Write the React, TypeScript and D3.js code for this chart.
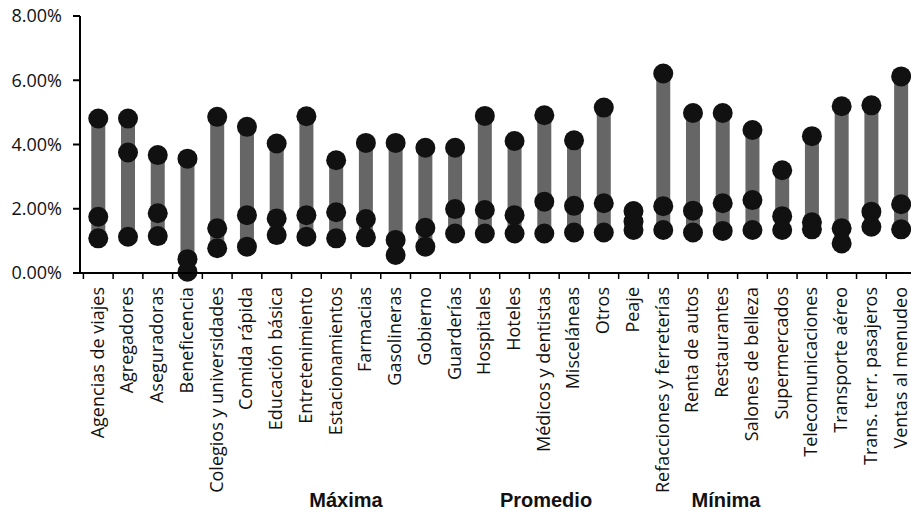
import React from "react";
import * as d3 from "d3";

const categories = [
  "Agencias de viajes", "Agregadores", "Aseguradoras", "Beneficencia",
  "Colegios y universidades", "Comida rápida", "Educación básica", "Entretenimiento",
  "Estacionamientos", "Farmacias", "Gasolineras", "Gobierno", "Guarderías",
  "Hospitales", "Hoteles", "Médicos y dentistas", "Misceláneas", "Otros", "Peaje",
  "Refacciones y ferreterías", "Renta de autos", "Restaurantes", "Salones de belleza",
  "Supermercados", "Telecomunicaciones", "Transporte aéreo", "Trans. terr. pasajeros",
  "Ventas al menudeo",
];
const maxima = [4.81, 4.81, 3.67, 3.56, 4.86, 4.55, 4.03, 4.88, 3.51, 4.05, 4.05, 3.9, 3.9, 4.89, 4.11, 4.91, 4.13, 5.15, 1.93, 6.21, 4.98, 4.98, 4.45, 3.2, 4.26, 5.19, 5.22, 6.12];
const promedio = [1.75, 3.75, 1.86, 0.43, 1.39, 1.8, 1.7, 1.8, 1.89, 1.68, 1.03, 1.41, 1.99, 1.96, 1.8, 2.22, 2.09, 2.17, 1.6, 2.08, 1.94, 2.17, 2.27, 1.77, 1.58, 1.39, 1.91, 2.14];
const minima = [1.08, 1.13, 1.15, 0.04, 0.77, 0.82, 1.18, 1.13, 1.08, 1.11, 0.56, 0.82, 1.23, 1.23, 1.23, 1.23, 1.26, 1.26, 1.34, 1.34, 1.26, 1.31, 1.34, 1.34, 1.36, 0.92, 1.44, 1.36];
const yTicks = [0, 2, 4, 6, 8];
const legendLabels = ["Máxima", "Promedio", "Mínima"];

export default function App() {
  const W = 911, H = 514;
  const x = d3.scaleBand<string>().domain(categories).range([83.4, 916]).padding(0);
  const y = d3.scaleLinear().domain([0, 8]).range([273, 16]);
  const bw = x.bandwidth();
  const cx = (c: string) => (x(c) as number) + bw / 2;
  const font = "'Open Sans', sans-serif";
  const legendX = [346, 546, 726];
  const series = [maxima, promedio, minima];
  return (
    <svg width={W} height={H} style={{ position: "absolute", left: 0, top: 0, background: "#fff" }}>
      {/* range bars */}
      {categories.map((c, i) => (
        <rect key={"b" + i} x={cx(c) - 7} width={14} y={y(maxima[i])} height={y(minima[i]) - y(maxima[i])} fill="#666" />
      ))}
      {/* dots */}
      {series.map((s, si) =>
        categories.map((c, i) => (
          <circle key={`d${si}-${i}`} cx={cx(c)} cy={y(s[i])} r={10} fill="#111" />
        ))
      )}
      {/* y axis */}
      <line x1={80} x2={80} y1={y(8)} y2={y(0)} stroke="#000" strokeWidth={2} />
      {yTicks.map((t) => (
        <g key={"yt" + t}>
          <line x1={73} x2={80} y1={y(t)} y2={y(t)} stroke="#000" strokeWidth={2} />
          <text x={62} y={y(t)} dy="0.35em" textAnchor="end" fontFamily={font} fontSize={18} fill="#111">
            {t.toFixed(2) + "%"}
          </text>
        </g>
      ))}
      {/* x axis */}
      <line x1={76} x2={W} y1={y(0)} y2={y(0)} stroke="#000" strokeWidth={2} />
      {categories.map((c, i) => (
        <line key={"xt" + i} x1={x(c) as number} x2={x(c) as number} y1={y(0)} y2={y(0) + 6} stroke="#000" strokeWidth={1.5} />
      ))}
      {categories.map((c, i) => (
        <text
          key={"xl" + i}
          transform={`translate(${cx(c) - 0.5},${287}) rotate(-90)`}
          dy="0.33em"
          textAnchor="end"
          fontFamily={font}
          fontSize={18}
          fill="#111"
        >
          {c}
        </text>
      ))}
      {/* legend */}
      {legendLabels.map((l, i) => (
        <text key={"lg" + i} x={legendX[i]} y={500} dy="0.35em" textAnchor="middle" fontFamily="'Liberation Sans', Arial, sans-serif" fontWeight="bold" fontSize={20} fill="#111">
          {l}
        </text>
      ))}
    </svg>
  );
}
